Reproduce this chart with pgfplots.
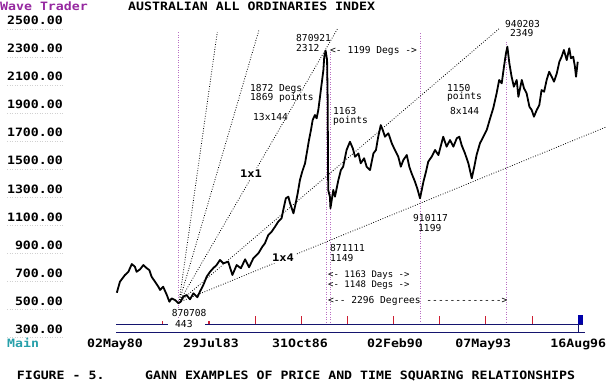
\documentclass[border=0pt]{standalone}
\usepackage{pgfplots}
\pgfplotsset{compat=1.18}
\usepackage{fontspec}
\newfontfamily\pixbfam[FakeStretch=1.15]{DejaVu Sans Mono Bold}
\newfontfamily\pixfam{DejaVu Sans Mono}
\newcommand\pixb{\fontsize{11.5}{12}\selectfont\pixbfam}
\newcommand\pix{\fontsize{9.6}{10}\selectfont\pixfam}
\newcommand\pixs{\fontsize{9}{9.5}\selectfont\pixfam}
\newcommand\pixm{\fontsize{10.5}{11}\selectfont\pixbfam}
\definecolor{wtpurple}{RGB}{150,40,160}
\definecolor{mainteal}{RGB}{40,160,170}
\definecolor{barnavy}{RGB}{20,20,110}
\definecolor{tickred}{RGB}{205,30,50}
\definecolor{vpurple}{RGB}{185,110,195}
\definecolor{rectblue}{RGB}{0,0,170}
\pgfplotstableread{
yr val
1980.32 558
1980.43 637
1980.61 685
1980.73 708
1980.85 763
1980.96 744
1981.02 708
1981.14 725
1981.26 756
1981.38 733
1981.47 720
1981.55 673
1981.67 637
1981.79 601
1981.85 578
1981.96 601
1982.09 542
1982.18 494
1982.26 518
1982.38 506
1982.50 483
1982.58 494
1982.67 530
1982.79 542
1982.91 511
1983.03 554
1983.17 526
1983.26 566
1983.38 613
1983.50 673
1983.62 708
1983.73 733
1983.85 756
1983.97 792
1984.09 768
1984.26 780
1984.41 685
1984.56 756
1984.71 733
1984.86 797
1985.00 740
1985.15 804
1985.33 840
1985.47 887
1985.56 911
1985.68 970
1985.80 994
1985.92 1030
1986.03 1065
1986.15 1090
1986.21 1149
1986.30 1232
1986.39 1244
1986.45 1197
1986.57 1125
1986.65 1197
1986.72 1268
1986.80 1363
1986.88 1422
1986.98 1482
1987.04 1553
1987.12 1648
1987.19 1720
1987.25 1791
1987.33 1827
1987.39 1803
1987.45 1863
1987.51 1957
1987.57 2053
1987.63 2148
1987.66 2243
1987.71 2286
1987.76 2219
1987.78 1957
1987.80 1292
1987.86 1244
1987.88 1161
1987.98 1292
1988.04 1244
1988.16 1363
1988.25 1434
1988.33 1458
1988.45 1577
1988.57 1636
1988.67 1589
1988.75 1529
1988.87 1553
1988.95 1482
1989.07 1518
1989.16 1458
1989.28 1434
1989.40 1553
1989.49 1577
1989.57 1672
1989.66 1755
1989.73 1720
1989.81 1672
1989.93 1696
1990.05 1625
1990.16 1577
1990.28 1529
1990.37 1458
1990.46 1506
1990.58 1541
1990.67 1458
1990.75 1411
1990.87 1351
1990.95 1304
1991.05 1232
1991.11 1292
1991.17 1351
1991.26 1422
1991.34 1494
1991.46 1529
1991.58 1577
1991.70 1541
1991.87 1672
1991.99 1601
1992.11 1648
1992.23 1601
1992.35 1661
1992.44 1672
1992.52 1613
1992.64 1553
1992.76 1482
1992.88 1375
1992.97 1458
1993.05 1541
1993.17 1625
1993.29 1672
1993.41 1720
1993.53 1803
1993.64 1875
1993.76 1982
1993.85 2077
1993.94 2053
1994.02 2172
1994.09 2267
1994.14 2314
1994.21 2196
1994.29 2100
1994.37 2029
1994.47 2077
1994.53 1957
1994.65 2077
1994.73 2017
1994.82 1982
1994.92 1886
1995.00 1863
1995.08 1815
1995.18 1863
1995.27 1898
1995.35 2005
1995.44 1993
1995.53 2077
1995.62 2136
1995.71 2100
1995.79 2065
1995.89 2125
1995.98 2207
1996.06 2243
1996.14 2291
1996.24 2219
1996.33 2303
1996.39 2232
1996.47 2243
1996.53 2172
1996.57 2100
1996.63 2207
}\allords
\begin{document}
\begin{tikzpicture}
\begin{axis}[name=ax, scale only axis, width=608pt, height=383pt,
  xmin=1976.186, xmax=1997.701, ymin=-86.1, ymax=2647.8,
  axis line style={draw=none}, tick style={draw=none}, major tick length=0pt,
  clip=false, unbounded coords=jump,
  ytick={300,500,700,900,1100,1300,1500,1700,1900,2100,2300,2500},
  yticklabels={300.00,500.00,700.00,900.00,1100.00,1300.00,1500.00,1700.00,1900.00,2100.00,2300.00,2500.00},
  yticklabel style={font=\pixb, anchor=base east, inner sep=0pt, xshift=63pt, yshift=-4.2pt},
  xtick={1980.255,1983.652,1986.802,1990.163,1993.288,1996.650},
  xticklabels={02May80,29Jul83,31Oct86,02Feb90,07May93,16Aug96},
  xticklabel style={font=\pixb, anchor=base, inner sep=0pt, yshift=35.5pt},
]
% vertical time lines
\addplot[vpurple, line width=0.9pt, dash pattern=on 0.9pt off 1.6pt] coordinates {
 (1982.495,2419) (1982.495,349) (1982.495,nan)
 (1987.722,2277) (1987.722,349) (1987.722,nan)
 (1987.863,2277) (1987.863,349) (1987.863,nan)
 (1991.048,2412) (1991.048,349) (1991.048,nan)
 (1994.109,2348) (1994.109,349)};
% Gann fan lines
\addplot[black, line width=0.8pt, dash pattern=on 0.8pt off 1.7pt] coordinates {
 (1982.52,490) (1983.875,2419) (1983.875,nan)
 (1982.52,490) (1985.351,2434) (1985.351,nan)
 (1982.52,490) (1988.146,2448) (1988.146,nan)
 (1982.52,490) (1993.879,2448) (1993.879,nan)
 (1982.52,490) (1997.630,1741)};
% price
\addplot[black, line width=1.8pt, line join=round] table[x=yr, y=val] {\allords};
% time bar
\addplot[barnavy, line width=0.9pt] coordinates {(1980.294,335) (1996.816,335)};
\addplot[barnavy, line width=0.9pt] coordinates {(1980.294,273) (1996.887,273)};
\addplot[barnavy, line width=0.9pt] coordinates {(1996.639,335) (1996.639,273)};
\addplot[fill=rectblue, draw=none] coordinates {(1996.650,335) (1996.827,335) (1996.827,399) (1996.650,399)} --cycle;
\addplot[tickred, line width=1.1pt] coordinates {
 (1981.943,335) (1981.943,356) (1981.943,nan)
 (1983.582,335) (1983.582,356) (1983.582,nan)
 (1985.220,335) (1985.220,392) (1985.220,nan)
 (1986.848,335) (1986.848,392) (1986.848,nan)
 (1988.476,335) (1988.476,392) (1988.476,nan)
 (1990.103,335) (1990.103,392) (1990.103,nan)
 (1991.731,335) (1991.731,392) (1991.731,nan)
 (1993.373,335) (1993.373,392) (1993.373,nan)
 (1995.036,335) (1995.036,392)};
\end{axis}
\begin{scope}[shift={(ax.north west)}, x=1pt, y=-1pt]
 \foreach \yc in {20.7,48.7,76.7,104.7,132.7,160.7,188.7,216.7,244.7,272.7,300.7,328.7}
   \draw[black!18, line width=0.8pt, dash pattern=on 1pt off 1.5pt] (7,\yc+8.5) -- (63,\yc+8.5);
 \node[anchor=base west, inner sep=0pt, font=\pixb, text=wtpurple] at (0,11) {Wave Trader};
 \node[anchor=base west, inner sep=0pt, font=\pixb] at (128,11) {AUSTRALIAN ALL ORDINARIES INDEX};
 \node[anchor=base west, inner sep=0pt, font=\pixb, text=mainteal] at (7,347.5) {Main};
 \node[anchor=base west, inner sep=0pt, font=\pixb] at (16.7,379.3) {FIGURE - 5.};
 \node[anchor=base west, inner sep=0pt, font=\pixb] at (145,379.3) {GANN EXAMPLES OF PRICE AND TIME SQUARING RELATIONSHIPS};
 \fill[white] (168,320.5) rectangle (205,327.5);
 \begin{scope}[every node/.style={anchor=base west, inner sep=0pt, font=\pix}]
  \node at (296,41.5) {870921};
  \node at (296,51.5) {2312};
  \node at (330,53.5) {<- 1199 Degs ->};
  \node at (250,91.5) {1872 Degs};
  \node at (250,100.5) {1869 points};
  \node at (253,121) {13x144};
  \node at (333,115) {1163};
  \node at (333,124) {points};
  \node at (447,91.5) {1150};
  \node at (447,100) {points};
  \node at (450,115) {8x144};
  \node at (505,27.5) {940203};
  \node at (510,36.5) {2349};
  \node at (413,222) {910117};
  \node at (418,232) {1199};
  \node at (330,251.5) {871111};
  \node at (330,261.5) {1149};
  \node[font=\pixs] at (328,278) {<- 1163 Days ->};
  \node[font=\pixs] at (328,287.5) {<- 1148 Degs ->};
  \node at (328,304) {<-- 2296 Degrees ------------->};
  \node[fill=white, inner sep=0.6pt] at (171,316) {870708};
  \node at (175,327.3) {443};
 \end{scope}
 \node[fill=white, inner sep=2pt, font=\pixm] at (251,174) {1x1};
 \node[fill=white, inner sep=2pt, font=\pixm] at (283,257.5) {1x4};
\end{scope}
\pgfresetboundingbox
\path[use as bounding box] (ax.south west) rectangle (ax.north east);
\end{tikzpicture}
\end{document}
